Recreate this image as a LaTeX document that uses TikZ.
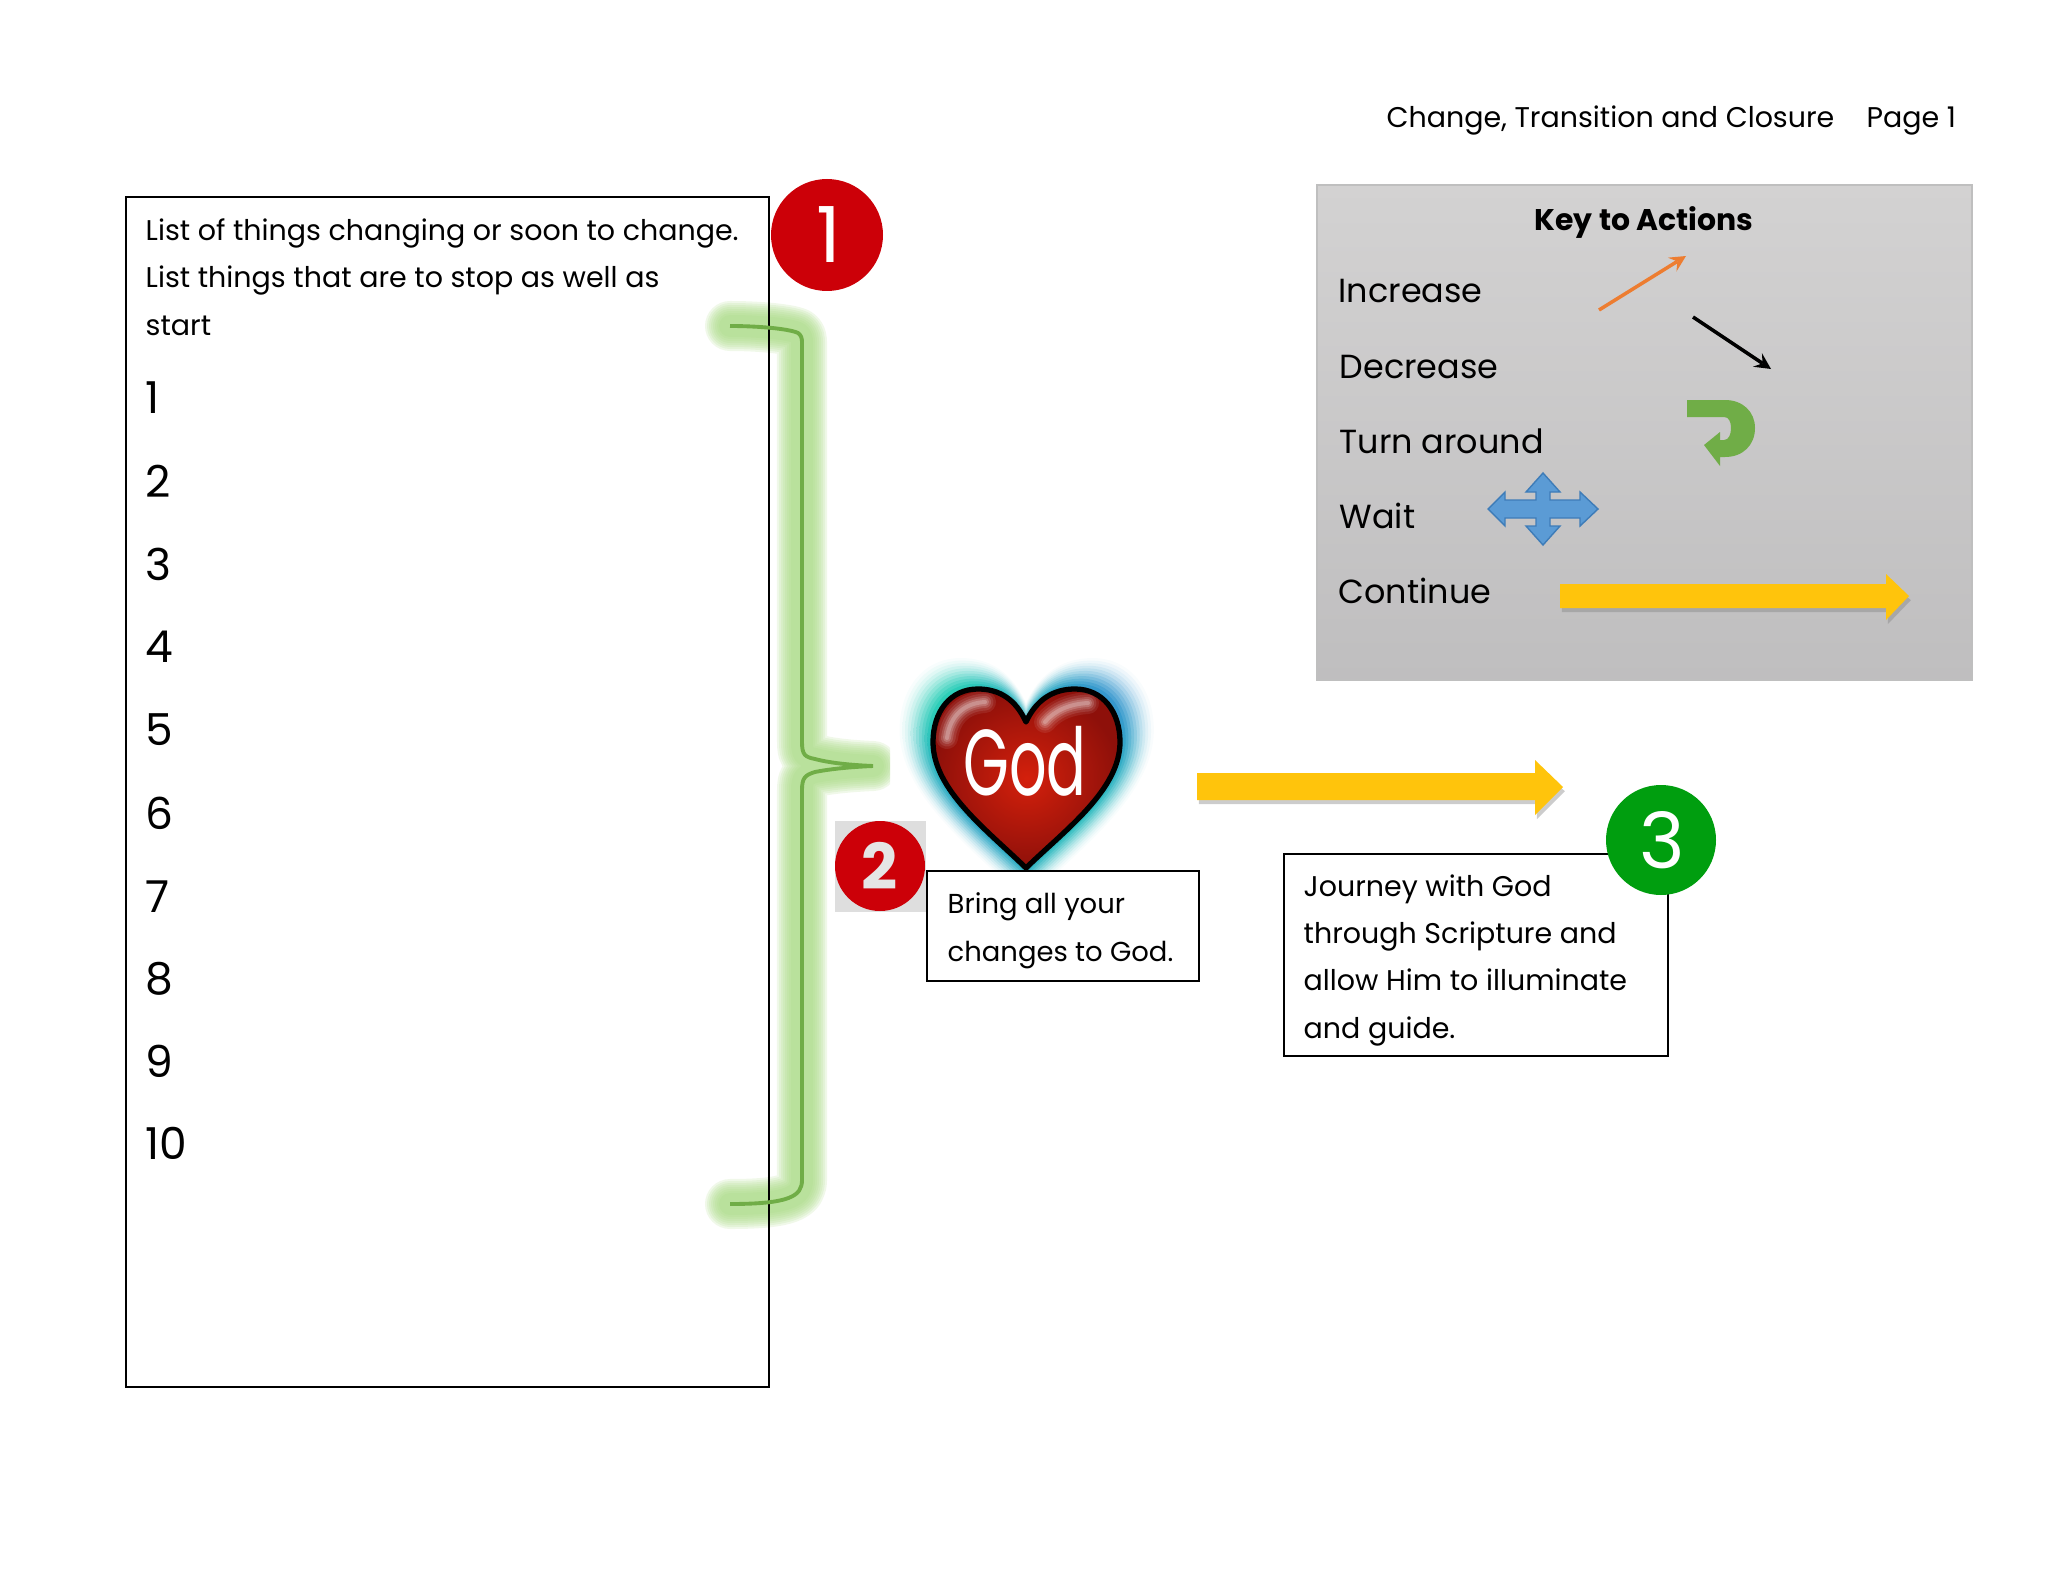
\documentclass[tikz,border=0pt]{standalone}
\usepackage{fontspec}
\setmainfont{Poppins}
\usetikzlibrary{shadows,shadings}
\definecolor{keytop}{HTML}{D3D2D2}
\definecolor{keybottom}{HTML}{BFBEBF}
\definecolor{badgered}{HTML}{CC0008}
\definecolor{badgegreen}{HTML}{009E0F}
\definecolor{bracegreen}{HTML}{70AD47}
\definecolor{glowgreen}{HTML}{A5D87F}
\definecolor{glowteal}{HTML}{20D8B0}
\definecolor{glowblue}{HTML}{2E86D0}
\definecolor{arrowyellow}{HTML}{FFC40C}
\definecolor{arroworange}{HTML}{ED7D31}
\definecolor{crossblue}{HTML}{5B9BD5}
\definecolor{crossedge}{HTML}{3E7CB8}
\definecolor{turngreen}{HTML}{70AD47}
\definecolor{heartred}{HTML}{D4200C}
\definecolor{heartdark}{HTML}{8E100A}
\newcommand{\bracepath}{(730,326) .. controls (760,326) and (790,329) .. (798,333) .. controls (801,335) and (802,338) .. (802,342) -- (802,742) .. controls (802,755) and (805,757) .. (815,759) .. controls (830,763) and (850,765) .. (873,766) .. controls (850,767) and (830,769) .. (815,772) .. controls (805,775) and (802,778) .. (802,790) -- (802,1180) .. controls (802,1196) and (790,1204) .. (730,1204)}
\newcommand{\heartpath}{(1026,722) .. controls (1036,700) and (1053,689) .. (1075,689) .. controls (1103,689) and (1120,712) .. (1120,742) .. controls (1120,790) and (1065,830) .. (1026,868) .. controls (987,830) and (933,790) .. (933,742) .. controls (933,712) and (950,689) .. (978,689) .. controls (1000,689) and (1016,700) .. (1026,722) -- cycle}
\tikzset{
    bodytext/.style={anchor=base west, inner sep=0pt, align=left, font=\fontsize{8.1}{13.4}\selectfont},
    keytext/.style={anchor=base west, inner sep=0pt, font=\fontsize{9.5}{12}\selectfont},
    listnum/.style={anchor=base west, inner sep=0pt, font=\fontsize{12.5}{14}\selectfont},
    badgenum/.style={text=white, inner sep=0pt, font=\fontsize{22}{24}\selectfont},
    bigarrow/.style={fill=arrowyellow, drop shadow={shadow xshift=0.5pt, shadow yshift=-1.2pt, opacity=0.4}},
    textbox/.style={draw=black, fill=white, line width=0.3pt},
}
\begin{document}
\begin{tikzpicture}[x=0.01cm, y=-0.01cm, >=stealth]
    \useasboundingbox (0,0) rectangle (2048,1582);

    % 1. glow of the bracket, then the list box over it
    \begin{scope}
        \clip (690,290) rectangle (890,1240);
        \foreach \w in {50,46,42,38,34,30,26,22}
            \draw[glowgreen, opacity=0.17, line width=\w*0.2845pt, line cap=round, line join=round] \bracepath;
    \end{scope}
    \draw[line width=0.3pt] (126,197) rectangle (769,1387);
    \draw[bracegreen, line width=1.1pt] \bracepath;

    % 2. list text
    \node[bodytext] (listhead) at (145,335) {List of things changing or soon to change.\\List things that are to stop as well as\\start};
    \foreach \n/\y in {1/413,2/497,3/580,4/662,5/745,6/829,7/912,8/994,9/1077,10/1159}
        \node[listnum] (num\n) at (145,\y) {\n};

    % 3. badges
    \fill[badgered] (827,235) circle (56);
    \node[badgenum] (one) at (829,235) {1};
    \fill[black!13] (835,821) rectangle (926,912);
    \fill[badgered] (880,866) circle (45);
    \node[badgenum, text=black!10, font=\fontsize{18}{20}\bfseries\selectfont] (two) at (880,866) {2};

    % 4. heart with its glow
    \foreach \s/\k in {1.36/3,1.33/8,1.30/14,1.27/22,1.24/31,1.21/41,1.18/52,1.15/63,1.12/74,1.09/85,1.06/95}
        \shade[shift={(1026,775)}, scale=\s, shift={(-1026,-775)}, shading=bilinear interpolation,
            upper left=glowteal!\k!white, upper right=glowblue!\k!white,
            lower left=glowblue!\k!white, lower right=glowteal!\k!white] \heartpath;
    \shade[inner color=heartred, outer color=heartdark] \heartpath;
    \foreach \w/\o in {22/0.08,17/0.1,12/0.14,8/0.18,4/0.22}{
        \draw[white, opacity=\o, line width=\w*0.2845pt, line cap=round] (947,738) .. controls (950,715) and (965,703) .. (985,702);
        \draw[white, opacity=\o, line width=\w*0.2845pt, line cap=round] (1045,722) .. controls (1055,710) and (1070,704) .. (1088,703);
    }
    \draw[black, line width=1.5pt, line join=round] \heartpath;
    \node[text=white, inner sep=0pt, xscale=0.88, yscale=1.4, font=\fontsize{19}{20}\selectfont] (god) at (1025,761) {God};

    % 5. captions
    \draw[textbox] (927,871) rectangle (1199,981);
    \node[bodytext, font=\fontsize{7.8}{13.4}\selectfont] (bring) at (947,961) {Bring all your\\changes to God.};
    \draw[textbox] (1284,854) rectangle (1668,1056);
    \node[bodytext] (journey) at (1303,1038) {Journey with God\\through Scripture and\\allow Him to illuminate\\and guide.};
    \fill[badgegreen] (1661,840) circle (55);
    \node[badgenum] (three) at (1662,840) {3};

    % 6. main arrow
    \fill[bigarrow] (1197,773) -- (1535,773) -- (1535,760) -- (1563,787) -- (1535,815) -- (1535,800) -- (1197,800) -- cycle;

    % 7. key
    \shade[top color=keytop, bottom color=keybottom, draw=black!25, line width=0.6pt] (1317,185) rectangle (1972,680);
    \node[anchor=base, inner sep=0pt, font=\fontsize{8.5}{10}\bfseries\selectfont] (keytitle) at (1644,231) {Key to Actions};
    \node[keytext] (increase) at (1338,303) {Increase};
    \node[keytext] (decrease) at (1339,378) {Decrease};
    \node[keytext] (turn) at (1339,453) {Turn around};
    \node[keytext] (wait) at (1339,528) {Wait};
    \node[keytext] (continue) at (1338,603) {Continue};

    % 8. key symbols
    \coordinate (upstart) at (1599,310);
    \coordinate (upend) at (1686,256);
    \coordinate (downstart) at (1693,317);
    \coordinate (downend) at (1771,369);
    \draw[->, color=arroworange, line width=1pt] (upstart) -- (upend);
    \draw[->, black, line width=1pt] (downstart) -- (downend);
    \fill[turngreen] (1687,400) -- (1725,400) .. controls (1743,400) and (1755,412) .. (1755,428) .. controls (1755,445) and (1743,457) .. (1725,457) -- (1720,457) -- (1720,466) -- (1704,445) -- (1720,432) -- (1720,440) -- (1724,440) .. controls (1729,440) and (1731,434) .. (1731,428) .. controls (1731,422) and (1729,417) .. (1724,417) -- (1687,417) -- cycle;
    \draw[fill=crossblue, draw=crossedge, line width=0.4pt] (1543,473) -- (1560,492) -- (1550,492) -- (1550,500) -- (1580,500) -- (1580,492) -- (1598,509) -- (1580,526) -- (1580,518) -- (1550,518) -- (1550,526) -- (1560,526) -- (1543,545) -- (1526,526) -- (1536,526) -- (1536,518) -- (1505,518) -- (1505,526) -- (1488,509) -- (1505,492) -- (1505,500) -- (1536,500) -- (1536,492) -- (1526,492) -- cycle;
    \fill[bigarrow] (1560,584) -- (1886,584) -- (1886,574) -- (1909,596) -- (1886,620) -- (1886,608) -- (1560,608) -- cycle;

    % 9. running head
    \node[bodytext] (headline) at (1386,128) {Change, Transition and Closure};
    \node[bodytext] (pageno) at (1866,128) {Page 1};
\end{tikzpicture}
\end{document}
